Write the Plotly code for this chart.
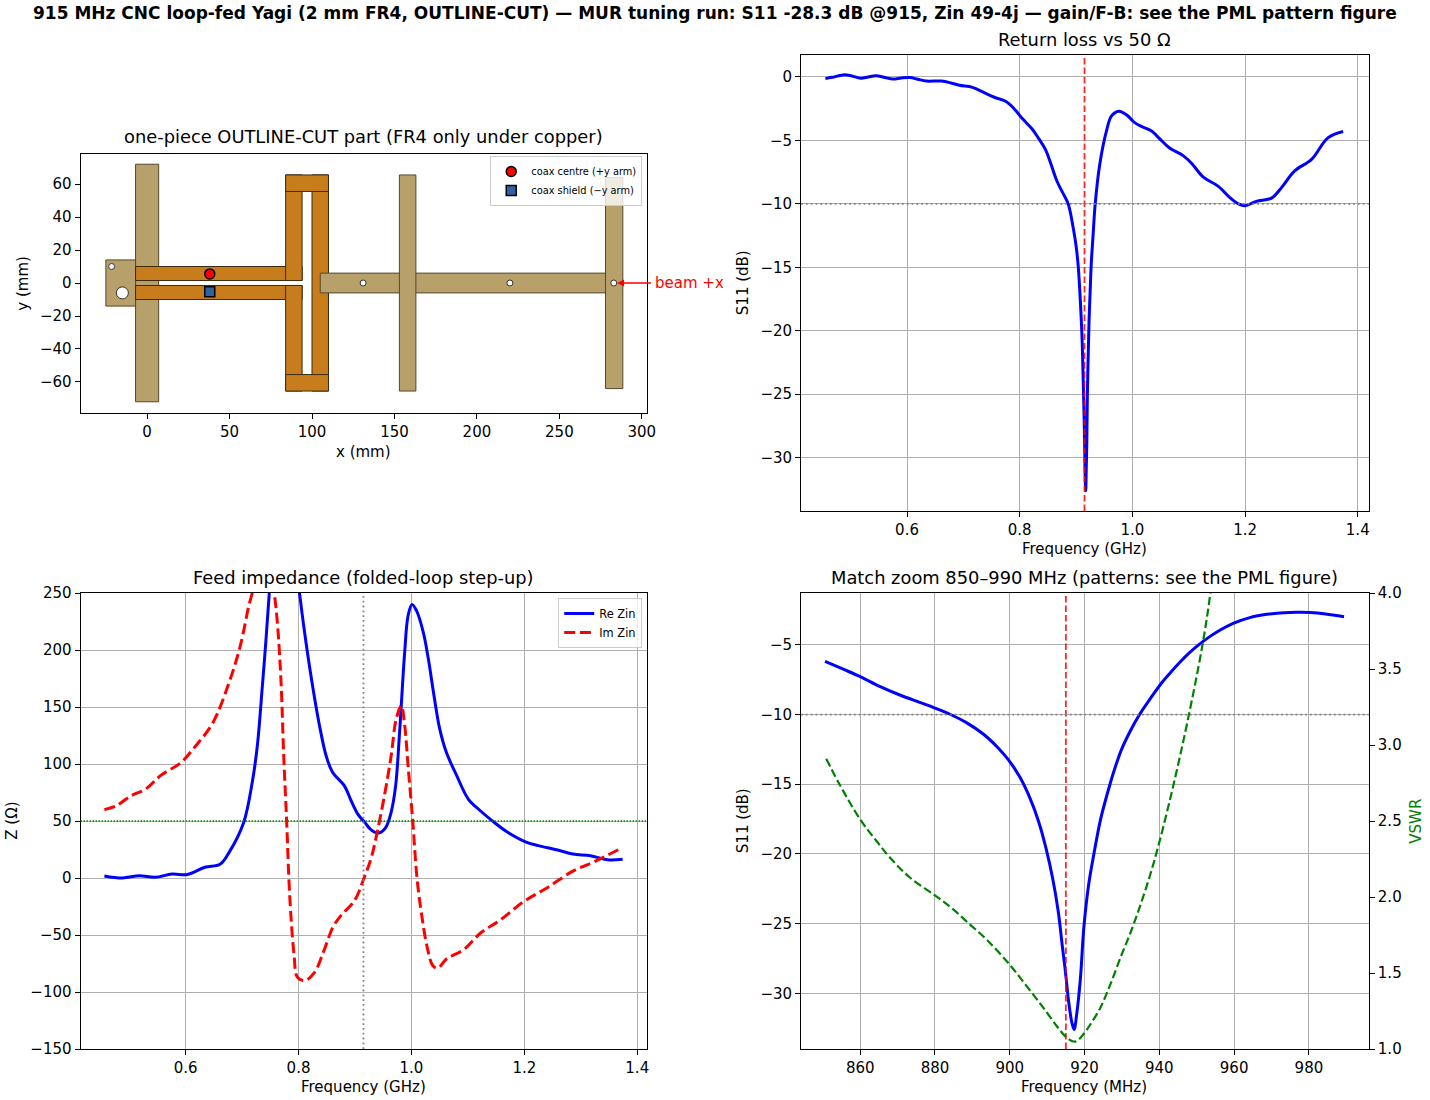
import plotly.graph_objects as go

W, H = 1430, 1100
# the page comes out slightly smaller than asked and 8px down, so place things against that
PAGE_W, PAGE_H, PAGE_TOP = 1422, 1082, 8

# wide band sweep
s11_ghz = [0.455, 0.467, 0.489, 0.502, 0.518, 0.531, 0.545, 0.561, 0.575, 0.59, 0.605, 0.619, 0.634, 0.661,
           0.678, 0.693, 0.716, 0.737, 0.755, 0.775, 0.79, 0.805, 0.822, 0.834, 0.846, 0.866, 0.876, 0.886,
           0.895, 0.9, 0.904, 0.908, 0.911, 0.913, 0.915, 0.9165, 0.9172, 0.918, 0.919, 0.92, 0.923, 0.925,
           0.927, 0.93, 0.934, 0.942, 0.954, 0.963, 0.976, 0.99, 1.004, 1.016, 1.034, 1.049, 1.066, 1.09,
           1.105, 1.126, 1.152, 1.173, 1.188, 1.2, 1.22, 1.247, 1.265, 1.288, 1.318, 1.347, 1.374]
s11_db = [-0.13, -0.03, 0.18, 0.08, -0.1, 0.0, 0.1, -0.05, -0.16, -0.08, -0.05, -0.18, -0.32, -0.32,
          -0.47, -0.66, -0.82, -1.24, -1.6, -1.92, -2.5, -3.3, -4.1, -4.87, -5.74, -8.2, -9.1, -10.0,
          -11.9, -13.3, -15.0, -18.0, -21.0, -24.4, -28.4, -32.0, -32.6, -31.0, -29.0, -25.3, -19.3, -16.9,
          -14.7, -12.6, -10.0, -6.9, -4.25, -3.07, -2.7, -3.0, -3.6, -3.9, -4.25, -4.9, -5.6, -6.2,
          -6.8, -7.9, -8.6, -9.5, -10.0, -10.15, -9.8, -9.55, -8.7, -7.4, -6.5, -4.8, -4.3]

# feed impedance, the peaks above 250 are clipped in the picture so those are guesses
re_ghz = [0.456, 0.488, 0.518, 0.546, 0.576, 0.603, 0.634, 0.661, 0.677, 0.703, 0.718, 0.727, 0.736, 0.742,
          0.748, 0.755, 0.77, 0.785, 0.795, 0.802, 0.81, 0.822, 0.837, 0.849, 0.86, 0.881, 0.893, 0.905,
          0.917, 0.929, 0.942, 0.954, 0.964, 0.972, 0.979, 0.988, 0.994, 1.001, 1.009, 1.021, 1.03, 1.039,
          1.05, 1.062, 1.08, 1.101, 1.122, 1.145, 1.169, 1.201, 1.225, 1.259, 1.286, 1.317, 1.347, 1.374]
re_zin = [1.8, 0.0, 2.0, 0.6, 3.5, 3.0, 9.4, 12, 22.5, 49, 84, 116, 169, 207,
          249, 300, 360, 320, 280, 249, 218, 177.5, 134, 107, 93, 81, 68, 56,
          49, 42, 39.5, 44, 57.6, 81, 128, 198, 230, 240, 234.5, 215.5, 192, 163,
          131, 110, 90, 69, 59, 49.4, 40.6, 32, 28.4, 24.6, 21, 19.6, 16, 16.4]
im_ghz = [0.456, 0.476, 0.503, 0.529, 0.556, 0.591, 0.618, 0.648, 0.677, 0.697, 0.712, 0.718, 0.735, 0.745,
          0.757, 0.763, 0.769, 0.774, 0.779, 0.783, 0.787, 0.792, 0.798, 0.811, 0.828, 0.844, 0.861, 0.875,
          0.899, 0.916, 0.929, 0.938, 0.952, 0.964, 0.973, 0.982, 0.988, 0.994, 1.002, 1.01, 1.018, 1.028,
          1.038, 1.047, 1.062, 1.092, 1.123, 1.157, 1.198, 1.239, 1.286, 1.327, 1.371]
im_zin = [60, 63, 72, 78, 90, 101, 116, 136, 171.6, 204, 239, 250, 290, 280,
          249, 221, 171.6, 104, 49, -2, -37, -67, -87, -90, -83, -65, -43, -33,
          -20, 0, 18, 37, 72, 107, 139.5, 151, 134, 98.5, 52, -1, -32, -61,
          -77, -79, -71, -63, -48, -37, -21, -9, 6, 15, 26]

# match zoom
zoom_mhz = [850.6, 855.3, 860, 865.2, 870.6, 875.9, 880, 884, 888.4, 892.9, 896.9, 899.9, 902.8, 905.4,
            907.7, 909.7, 911.5, 913, 914, 914.9, 915.7, 916.6, 917.2, 917.9, 918.9, 919.8, 921.1, 922.5,
            924.3, 926.8, 928.3, 929.9, 932.2, 934.7, 937.6, 940.7, 943, 945.5, 948, 950.5, 953, 955.4, 959.9,
            964.4, 968.8, 973.3, 977.8, 982.3, 985.8, 989.4]
zoom_db = [-6.18, -6.73, -7.28, -7.98, -8.6, -9.13, -9.54, -9.98, -10.58, -11.4, -12.4, -13.34, -14.54, -16.0,
           -17.67, -19.6, -21.8, -24.2, -26.5, -28.5, -30.5, -32.1, -32.6, -31.5, -28.9, -25.3, -22.2, -20.0,
           -17.5, -15.0, -13.7, -12.5, -11.2, -10.0, -8.85, -7.7, -6.98, -6.25, -5.58, -5.0, -4.5, -4.08, -3.45,
           -3.03, -2.81, -2.69, -2.67, -2.72, -2.84, -2.98]
vswr_mhz = [850.9, 854.5, 860, 864.3, 868.3, 873.2, 880, 884.8, 889.3, 893.8, 899.9, 904.5, 909, 912.6,
            914.8, 916.6, 917.7, 919.3, 921.5, 924.2, 926.9, 929.9, 932.2, 934.7, 937.6, 940.1, 943.8, 947.4,
            951.4, 953.6, 955.4]
vswr = [2.91, 2.74, 2.51, 2.37, 2.25, 2.13, 2.01, 1.92, 1.82, 1.72, 1.557, 1.414, 1.27, 1.15,
        1.085, 1.053, 1.05, 1.085, 1.16, 1.27, 1.425, 1.62, 1.76, 1.93, 2.15, 2.37, 2.74, 3.14,
        3.64, 3.99, 4.4]

# board outline in mm: x0, x1, y0, y1
reflector = (-7, 7, -72, 72)
mount = (-25, -7, -14, 14)
copper_parts = [(-7, 94, 1.5, 10), (-7, 94, -10, -1.5), (84, 94, 1.5, 65.5), (84, 94, -65.5, -1.5),
                (100, 110, -65.5, 65.5), (84, 110, 55.5, 65.5), (84, 110, -65.5, -55.5)]
boom = (105, 288, -6, 6)
directors = [(153, 163, -65.5, 65.5), (278, 288.5, -64, 64)]
small_hole_x = [-21.5, 131, 220, 283]
small_hole_y = [10, 0, 0, 0]
big_hole_x = [-15]
big_hole_y = [-6]
feed_x = 38
centre_y = 5.5
shield_y = -5.3

FR4 = "#b8a06a"
FR4_EDGE = "#54492f"
COPPER = "#c77d1c"
COPPER_EDGE = "#3d2b10"
GRID = "#b0b0b0"
FONT = "DejaVu Sans"
TICK_SIZE = 15
TITLE_SIZE = 17.85


def frac_x(px):
    return (px + 0.7) / PAGE_W


def frac_y(py):
    return 1 - (py - PAGE_TOP) / PAGE_H


def dom_x(left, right):
    return [frac_x(left), frac_x(right)]


def dom_y(top, bottom):
    return [frac_y(bottom), frac_y(top)]


def base_axis(**kw):
    ax = dict(showline=True, linecolor="black", linewidth=1.2, mirror=True, ticks="outside", ticklen=5,
              tickwidth=1.2, tickcolor="black", showgrid=True, gridcolor=GRID, gridwidth=1.2, zeroline=False,
              tickfont=dict(family=FONT, size=TICK_SIZE, color="black"))
    ax.update(kw)
    return ax


def rect_trace(part, fill, edge):
    x0, x1, y0, y1 = part
    return go.Scatter(x=[x0, x1, x1, x0, x0], y=[y0, y0, y1, y1, y0], mode="lines", fill="toself",
                      fillcolor=fill, line=dict(color=edge, width=1), showlegend=False, hoverinfo="skip",
                      xaxis="x", yaxis="y")


def text_at(px, py, text, size=TICK_SIZE, color="black", angle=0, bold=False):
    return dict(xref="paper", yref="paper", x=frac_x(px), y=frac_y(py), text=f"<b>{text}</b>" if bold else text,
                showarrow=False, xanchor="center", yanchor="middle", textangle=angle,
                font=dict(family=FONT, size=size, color=color))


def curve(x, y, xa, ya, color, name=None, dash=None, width=3, legend=None):
    return go.Scatter(x=x, y=y, mode="lines", name=name, showlegend=name is not None, legend=legend,
                      line=dict(color=color, width=width, dash=dash, shape="spline", smoothing=1.0),
                      xaxis=xa, yaxis=ya, hoverinfo="skip")


fig = go.Figure()

# outline-cut part
fig.add_trace(rect_trace(reflector, FR4, FR4_EDGE))
fig.add_trace(rect_trace(mount, FR4, FR4_EDGE))
for part in copper_parts:
    fig.add_trace(rect_trace(part, COPPER, COPPER_EDGE))
fig.add_trace(rect_trace(boom, FR4, FR4_EDGE))
for part in directors:
    fig.add_trace(rect_trace(part, FR4, FR4_EDGE))
fig.add_trace(go.Scatter(x=small_hole_x, y=small_hole_y, mode="markers", showlegend=False, hoverinfo="skip",
                         marker=dict(color="white", size=6, line=dict(color="#333333", width=1)),
                         xaxis="x", yaxis="y"))
fig.add_trace(go.Scatter(x=big_hole_x, y=big_hole_y, mode="markers", showlegend=False, hoverinfo="skip",
                         marker=dict(color="white", size=12, line=dict(color="#333333", width=1)),
                         xaxis="x", yaxis="y"))
fig.add_trace(go.Scatter(x=[feed_x], y=[centre_y], mode="markers", name="coax centre (+y arm)", hoverinfo="skip",
                         marker=dict(color="red", size=10, symbol="circle", line=dict(color="black", width=1.5)),
                         xaxis="x", yaxis="y", legend="legend"))
fig.add_trace(go.Scatter(x=[feed_x], y=[shield_y], mode="markers", name="coax shield (−y arm)", hoverinfo="skip",
                         marker=dict(color="#2f62a3", size=10, symbol="square", line=dict(color="black", width=1.5)),
                         xaxis="x", yaxis="y", legend="legend"))

# return loss
fig.add_trace(curve(s11_ghz, s11_db, "x2", "y2", "blue"))

# feed impedance
fig.add_trace(curve(re_ghz, re_zin, "x3", "y3", "blue", name="Re Zin", legend="legend2"))
fig.add_trace(curve(im_ghz, im_zin, "x3", "y3", "red", name="Im Zin", dash="11px,4.7px", legend="legend2"))

# match zoom with VSWR on the right
fig.add_trace(curve(zoom_mhz, zoom_db, "x4", "y4", "blue"))
fig.add_trace(curve(vswr_mhz, vswr, "x4", "y5", "green", dash="8.2px,3.5px", width=2.2))

RED_LINE = dict(color="rgba(255,0,0,0.85)", width=1.8, dash="6.6px,2.9px")
GREY_DOTS = dict(color="rgba(128,128,128,0.95)", width=1.8, dash="1.8px,3px")
shapes = [
    dict(type="line", xref="x2", yref="y2 domain", x0=0.915, x1=0.915, y0=0, y1=1, line=RED_LINE),
    dict(type="line", xref="x2 domain", yref="y2", x0=0, x1=1, y0=-10, y1=-10, line=GREY_DOTS),
    dict(type="line", xref="x3", yref="y3 domain", x0=0.915, x1=0.915, y0=0, y1=1, line=GREY_DOTS),
    dict(type="line", xref="x3 domain", yref="y3", x0=0, x1=1, y0=50, y1=50,
         line=dict(color="green", width=1.4, dash="1.4px,1.6px")),
    dict(type="line", xref="x4", yref="y4 domain", x0=915, x1=915, y0=0, y1=1, line=RED_LINE),
    dict(type="line", xref="x4 domain", yref="y4", x0=0, x1=1, y0=-10, y1=-10, line=GREY_DOTS),
]

annotations = [
    text_at(715, 12, "915 MHz CNC loop-fed Yagi (2 mm FR4, OUTLINE-CUT) — MUR tuning run: S11 -28.3 dB @915, "
                     "Zin 49-4j — gain/F-B: see the PML pattern figure", size=17, bold=True),
    text_at(363.5, 136, "one-piece OUTLINE-CUT part (FR4 only under copper)", size=TITLE_SIZE),
    text_at(1085, 38, "Return loss vs 50 Ω", size=TITLE_SIZE),
    text_at(363.5, 576, "Feed impedance (folded-loop step-up)", size=TITLE_SIZE),
    text_at(1085, 576, "Match zoom 850–990 MHz (patterns: see the PML figure)", size=TITLE_SIZE),
    text_at(363.5, 451, "x (mm)"),
    text_at(22, 282, "y (mm)", angle=-90),
    text_at(1084.5, 548, "Frequency (GHz)"),
    text_at(743, 282, "S11 (dB)", angle=-90),
    text_at(363.5, 1086, "Frequency (GHz)"),
    text_at(11, 820, "Z (Ω)", angle=-90),
    text_at(1084.5, 1086, "Frequency (MHz)"),
    text_at(743, 820, "S11 (dB)", angle=-90),
    text_at(1416, 820, "VSWR", color="green", angle=-90),
    dict(xref="x", yref="y", x=285, y=0, text="beam +x", showarrow=True, axref="pixel", ayref="pixel", ax=72, ay=0,
         arrowhead=2, arrowsize=1, arrowwidth=1.4, arrowcolor="red", borderpad=3,
         font=dict(family=FONT, size=TICK_SIZE, color="red")),
]

fig.update_layout(
    width=W, height=H, autosize=False, margin=dict(l=0, r=0, t=0, b=0),
    paper_bgcolor="white", plot_bgcolor="white", font=dict(family=FONT, color="black"),
    shapes=shapes, annotations=annotations,
    xaxis=base_axis(domain=dom_x(80, 647), range=[-40.3, 303.3], anchor="y", showgrid=False,
                    tickmode="array", tickvals=[0, 50, 100, 150, 200, 250, 300]),
    yaxis=base_axis(domain=dom_y(153, 412), range=[-78.8, 78.2], anchor="x", showgrid=False,
                    tickmode="array", tickvals=[-60, -40, -20, 0, 20, 40, 60]),
    xaxis2=base_axis(domain=dom_x(801, 1369), range=[0.412, 1.4195], anchor="y2", dtick=0.2, tick0=0, tickformat=".1f"),
    yaxis2=base_axis(domain=dom_y(54, 510), range=[-34.2, 1.73], anchor="x2", dtick=5, tick0=0),
    xaxis3=base_axis(domain=dom_x(80, 647), range=[0.414, 1.4177], anchor="y3", dtick=0.2, tick0=0, tickformat=".1f"),
    yaxis3=base_axis(domain=dom_y(592, 1048), range=[-150, 250], anchor="x3", dtick=50, tick0=0),
    xaxis4=base_axis(domain=dom_x(801, 1369), range=[844.2, 996], anchor="y4", dtick=20, tick0=0),
    yaxis4=base_axis(domain=dom_y(592, 1048), range=[-34.0, -1.28], anchor="x4", dtick=5, tick0=0, mirror=False),
    yaxis5=base_axis(domain=dom_y(592, 1048), range=[1, 4], anchor="x4", overlaying="y4", side="right", showgrid=False,
                     dtick=0.5, tick0=0, tickformat=".1f", mirror=False),
    legend=dict(x=frac_x(642), y=frac_y(155), xanchor="right", yanchor="top", bgcolor="rgba(255,255,255,0.8)",
                bordercolor="#cccccc", borderwidth=1, font=dict(family=FONT, size=9.8, color="black"),
                itemwidth=30),
    legend2=dict(x=frac_x(642), y=frac_y(597), xanchor="right", yanchor="top", bgcolor="rgba(255,255,255,0.8)",
                 bordercolor="#cccccc", borderwidth=1, font=dict(family=FONT, size=11.4, color="black"),
                 itemwidth=30),
)

fig.write_html("out.html", config={"displayModeBar": False},
               post_script="document.body.style.margin='0';")
